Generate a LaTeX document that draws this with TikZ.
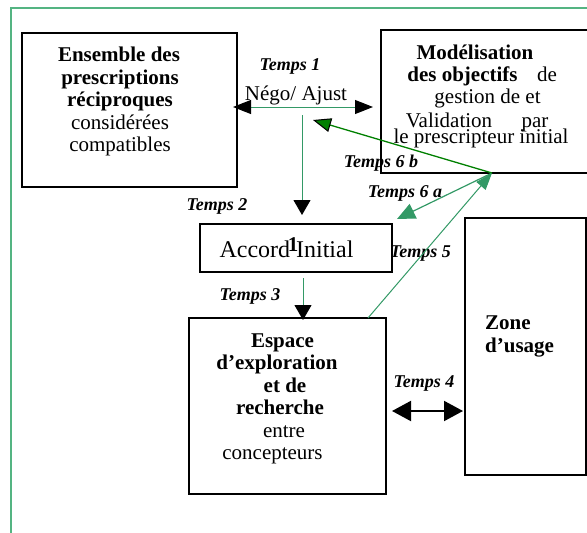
\documentclass[tikz,border=0pt]{standalone}
\usepackage{fontspec}
\setmainfont{Liberation Serif}
\usetikzlibrary{arrows.meta}
\definecolor{framegreen}{RGB}{84,180,130}
\definecolor{sea}{RGB}{51,153,102}
\definecolor{dkgreen}{RGB}{0,128,0}
\tikzset{
  box/.style={draw=black, line width=1.3pt, inner sep=0pt},
  txt/.style={anchor=base, inner sep=0pt, font=\fontsize{21}{22.5}\selectfont},
  btxt/.style={txt, font=\fontsize{21}{22.5}\selectfont\bfseries},
  lbl/.style={anchor=base, inner sep=0pt, font=\fontsize{18}{20}\selectfont\bfseries\itshape},
  blacktip/.style={-{Triangle[length=15pt,width=17pt,color=black]}},
  greenline/.style={draw=sea, line width=1pt},
}
\begin{document}
\begin{tikzpicture}[x=1pt,y=-1pt]
\useasboundingbox (0,0) rectangle (587,533);
% outer frame
\draw[framegreen, line width=1.6pt] (11,540) -- (11,8) -- (600,8);

% boxes
\node[box, minimum width=215pt, minimum height=154pt] (b1) at (129.5,110) {};
\node[box, minimum width=219pt, minimum height=143pt] (b2) at (490.5,101.5) {};
\node[box, minimum width=192pt, minimum height=48pt] (acc) at (296,248) {};
\node[box, minimum width=197pt, minimum height=176pt] (esp) at (287.5,406) {};
\node[box, minimum width=121pt, minimum height=257pt] (zone) at (525.5,346.5) {};

% box 1 text
\node[btxt] (b1l1) at (119,61) {Ensemble des};
\node[btxt] (b1l2) at (120,84) {prescriptions};
\node[btxt] (b1l3) at (120,106) {réciproques};
\node[txt] (b1l4) at (120,129) {considérées};
\node[txt] (b1l5) at (120,151) {compatibles};

% box 2 text
\node[btxt] (b2l1) at (475,59) {Modélisation};
\node[btxt] (b2l2) at (462.5,81) {des objectifs};
\node[txt] (b2l2b) at (547,81) {de};
\node[txt] (b2l3) at (487.5,103) {gestion de et};
\node[txt] (b2l4) at (449,127) {Validation};
\node[txt] (b2l4b) at (535,127) {par};
\node[txt] (b2l5) at (481,143) {le prescripteur initial};

% accord
\node[anchor=base, inner sep=0pt, font=\fontsize{24}{26}\selectfont] (acct) at (286.5,257) {Accord Initial};
\node[anchor=base, inner sep=0pt, font=\fontsize{21}{22}\selectfont\bfseries] (mark) at (293,251) {1};

% espace text
\node[btxt] (e1) at (282.5,347) {Espace};
\node[btxt] (e2) at (277,369.5) {d’exploration};
\node[btxt] (e3) at (285,392) {et de};
\node[btxt] (e4) at (280,414.5) {recherche};
\node[txt] (e5) at (284,437) {entre};
\node[txt] (e6) at (272.5,459.5) {concepteurs};

% zone text
\node[btxt, anchor=base west] (z1) at (485,329) {Zone};
\node[btxt, anchor=base west] (z2) at (485,352) {d’usage};

% labels
\node[lbl] (l1) at (290,70) {Temps 1};
\node[txt] (nego) at (296,100) {Négo/ Ajust};
\node[lbl] (l6b) at (381,167) {Temps 6 b};
\node[lbl] (l6a) at (405,197) {Temps 6 a};
\node[lbl] (l2) at (217,210) {Temps 2};
\node[lbl] (l5) at (420.5,257) {Temps 5};
\node[lbl] (l3) at (250,300) {Temps 3};
\node[lbl] (l4) at (424,387) {Temps 4};

% connector end points
\coordinate (t1l) at (233,107);
\coordinate (t1r) at (373,107);
\coordinate (t2s) at (302,115);
\coordinate (t2e) at (302,215);
\coordinate (t3s) at (303,278);
\coordinate (t3e) at (303,320);
\coordinate (t4l) at (392,411);
\coordinate (t4r) at (463,411);
\coordinate (t5s) at (368,318);
\coordinate (hub) at (492,173);
\coordinate (t6a) at (397,219);
\coordinate (t6b) at (313,120);

% connectors
\draw[greenline, {Triangle[length=18pt,width=14pt,color=black]}-{Triangle[length=18pt,width=14pt,color=black]}] (t1l) -- (t1r);
\draw[greenline, blacktip] (t2s) -- (t2e);
\draw[greenline, blacktip] (t3s) -- (t3e);
\draw[black, line width=2pt, {Triangle[length=19pt,width=20pt]}-{Triangle[length=19pt,width=20pt]}] (t4l) -- (t4r);
\draw[greenline, -{Triangle[length=17pt,width=12pt,color=sea]}] (t5s) -- (hub);
\draw[greenline, line width=1.2pt, -{Triangle[length=18pt,width=16pt,color=sea]}] (hub) -- (t6a);
\draw[dkgreen, line width=1.3pt, -{Triangle[length=18pt,width=14pt,color=black,fill=dkgreen,line width=1pt]}] (hub) -- (t6b);
\end{tikzpicture}
\end{document}
